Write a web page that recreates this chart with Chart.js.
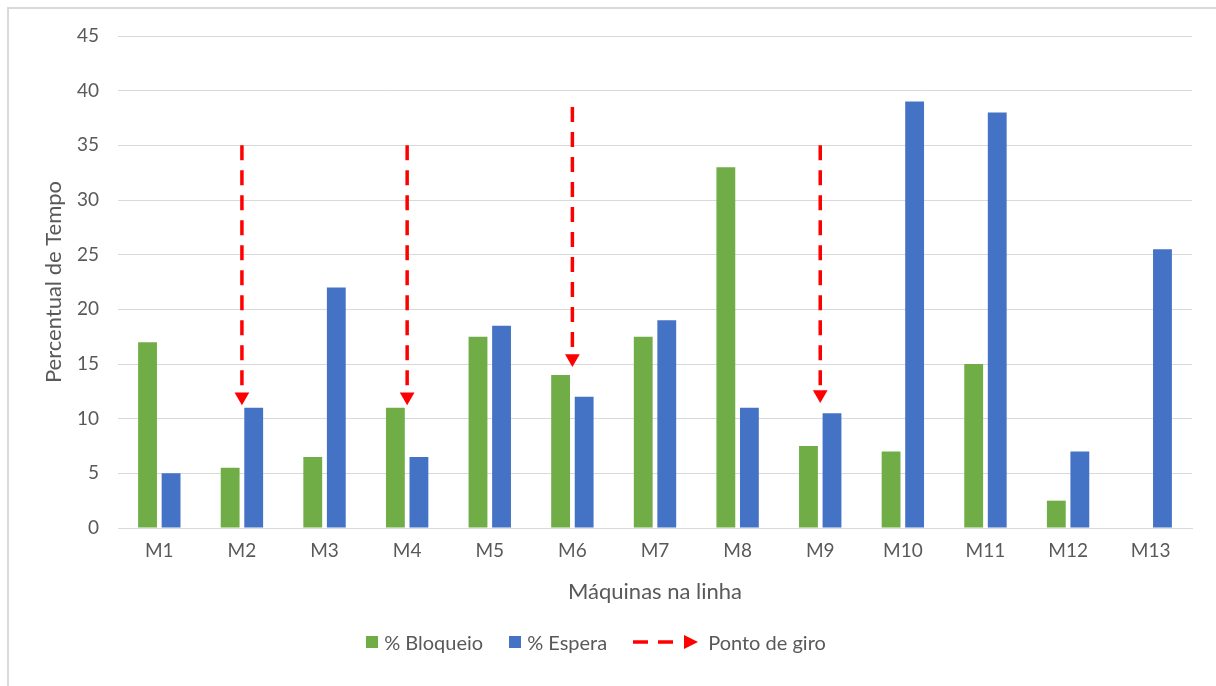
<!DOCTYPE html>
<html lang="pt">
<head>
<meta charset="utf-8">
<title>Percentual de Tempo por Máquina</title>
<script src="https://cdn.jsdelivr.net/npm/chart.js@4/dist/chart.umd.min.js"></script>
<style>
  html, body { margin: 0; padding: 0; background: #fff; }
  #wrap { position: relative; width: 1216px; height: 686px; overflow: hidden; }
  #frame { position: absolute; left: 7px; top: 7px; right: -10px; bottom: -10px;
           border-left: 2px solid #d9d9d9; border-top: 2px solid #d9d9d9; }
  canvas { position: absolute; left: 0; top: 0; }
  #legend { position: absolute; left: 0; width: 1192px; top: 630px; display: flex;
            justify-content: center; align-items: center; gap: 0;
            font-family: Lato, "Open Sans", sans-serif; font-size: 20px; color: #595959; }
  .item { display: flex; align-items: center; margin: 0 13px; }
  .sw { width: 12px; height: 12px; margin-right: 6px; }
  .item svg { margin-right: 9px; }
</style>
</head>
<body>
<div id="wrap">
  <div id="frame"></div>
  <canvas id="chart" width="1216" height="686"></canvas>
  <div id="legend">
    <div class="item"><span class="sw" style="background:#70AD47"></span>% Bloqueio</div>
    <div class="item"><span class="sw" style="background:#4472C4"></span>% Espera</div>
    <div class="item">
      <svg width="66" height="14" viewBox="0 0 66 14">
        <line x1="0" y1="7" x2="50" y2="7" stroke="#FF0000" stroke-width="3.5" stroke-dasharray="15 10"/>
        <polygon points="51,0 65,7 51,14" fill="#FF0000"/>
      </svg>Ponto de giro
    </div>
  </div>
</div>
<script>
// Machines on the line
const machines = ['M1','M2','M3','M4','M5','M6','M7','M8','M9','M10','M11','M12','M13'];
// % of time blocked / starved per machine
const bloqueio = [17, 5.5, 6.5, 11, 17.5, 14, 17.5, 33, 7.5, 7, 15, 2.5, null];
const espera   = [5, 11, 22, 6.5, 18.5, 12, 19, 11, 10.5, 39, 38, 7, 25.5];
// Turning points: machine, arrow start value, arrow head value
const giroMachines = ['M2', 'M4', 'M6', 'M9'];
const giroFrom     = [35, 35, 38.5, 35];
const giroTo       = [12, 12, 15.5, 12.2];
// Value axis ticks
const yTicks = [0, 5, 10, 15, 20, 25, 30, 35, 40, 45];

const textColor = '#595959';
const gridColor = '#d9d9d9';
const fontFamily = 'Lato, "Open Sans", sans-serif';

const arrowSets = giroMachines.map((m, i) => ({
  type: 'line',
  label: 'Ponto de giro',
  data: [{ x: m, y: giroFrom[i] }, { x: m, y: giroTo[i] }],
  borderColor: '#FF0000',
  borderWidth: 3.5,
  borderDash: [15, 10],
  borderCapStyle: 'butt',
  pointStyle: 'triangle',
  pointRotation: 180,
  pointRadius: [0, 8.5],
  pointBackgroundColor: '#FF0000',
  pointBorderColor: '#FF0000',
  pointBorderWidth: 0,
  fill: false,
  order: 0
}));

new Chart(document.getElementById('chart'), {
  type: 'bar',
  data: {
    labels: machines,
    datasets: [
      { label: '% Bloqueio', data: bloqueio, backgroundColor: '#70AD47', order: 1,
        categoryPercentage: 0.57, barPercentage: 0.8 },
      { label: '% Espera', data: espera, backgroundColor: '#4472C4', order: 1,
        categoryPercentage: 0.57, barPercentage: 0.8 },
      ...arrowSets
    ]
  },
  options: {
    responsive: false,
    animation: false,
    layout: { padding: { left: 41, top: 36, right: 24, bottom: 78 } },
    plugins: { legend: { display: false }, tooltip: { enabled: false } },
    scales: {
      x: {
        type: 'category',
        grid: { display: false, drawTicks: false },
        border: { display: true, color: gridColor, width: 1 },
        ticks: { color: textColor, font: { family: fontFamily, size: 19 }, padding: 11 },
        title: { display: true, text: 'Máquinas na linha', color: textColor,
                 font: { family: fontFamily, size: 22 }, padding: { top: 0, bottom: 3 } },
        afterFit: s => { s.height = 80; }
      },
      y: {
        min: 0, max: 45,
        afterBuildTicks: s => { s.ticks = yTicks.map(v => ({ value: v })); },
        grid: { color: gridColor, lineWidth: 1, drawTicks: false },
        border: { display: false },
        ticks: { color: textColor, font: { family: fontFamily, size: 19 }, padding: 19 },
        title: { display: true, text: 'Percentual de Tempo', color: textColor,
                 font: { family: fontFamily, size: 22 }, padding: 0 },
        afterFit: s => { s.width = 77; }
      }
    }
  }
});
</script>
</body>
</html>
